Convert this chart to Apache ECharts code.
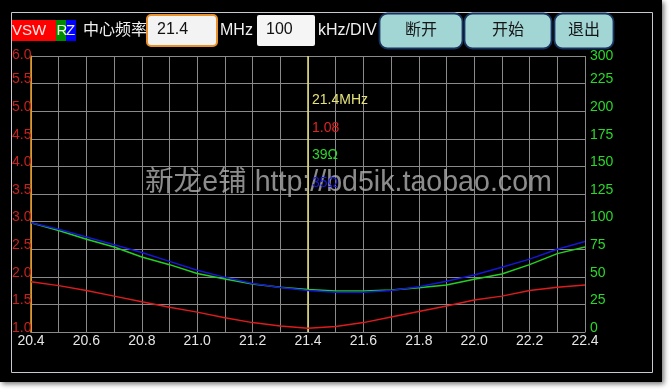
<!DOCTYPE html>
<html><head><meta charset="utf-8">
<script src="https://cdn.jsdelivr.net/npm/echarts@6/dist/echarts.min.js"></script>
<style>html,body{margin:0;padding:0;background:#fff;}#c{width:670px;height:390px;}</style>
</head><body><div id="c"></div><script>
// ---- data ----
const freqs  = [20.4,20.5,20.6,20.7,20.8,20.9,21.0,21.1,21.2,21.3,21.4,21.5,21.6,21.7,21.8,21.9,22.0,22.1,22.2,22.3,22.4];
const vswr   = [1.91,1.84,1.75,1.65,1.55,1.45,1.36,1.26,1.17,1.11,1.07,1.10,1.17,1.27,1.37,1.47,1.58,1.65,1.75,1.81,1.85];
const resist = [99,92,84,77,68,61,53,48,43.5,40.5,38.5,37.2,37.2,38,40,42.6,47.7,52.5,61,71,77];
const imped  = [99,93,86,79,72,64,56,49.5,44,40.3,37.5,36,36,37.5,41,46,51.6,58.6,66,75,82];
const leftLabels  = ['1.0','1.5','2.0','2.5','3.0','3.5','4.0','4.5','5.0','5.5','6.0'];
const rightLabels = ['0','25','50','75','100','125','150','175','200','225','300'];
const markerFreq = 21.4;
const markerTexts = ['21.4MHz','1.08','39Ω','35Ω'];
const headerTexts = {center:'中心频率', freq:'21.4', unit:'MHz', span:'100', spanUnit:'kHz/DIV', b1:'断开', b2:'开始', b3:'退出'};
const watermark = '新龙e铺 http://bd5ik.taobao.com';

const FF = "'Liberation Sans','Noto Sans CJK SC',sans-serif";
const pair = arr => freqs.map((f,i)=>[f,arr[i]]);

function txt(x,y,text,fill,size,extra){
  return Object.assign({type:'text', x:x, y:y, z:60,
    style:{text:text, fill:fill, font:size+'px '+FF, verticalAlign:'middle', align:'left'}}, extra||{});
}
function btn(x,w,label){
  return [
    {type:'rect', z:55, shape:{x:x,y:13.5,width:w,height:35,r:8}, style:{fill:'#a2d6d4',stroke:'#17335f',lineWidth:1.8}},
    txt(x+w/2,31,label,'#161616',16,{style:{text:label,fill:'#161616',font:'16px '+FF,align:'center',verticalAlign:'middle'}})
  ];
}

const graphics = [
  {type:'rect', z:-100, shape:{x:0,y:0,width:662,height:382}, style:{fill:'#000',shadowBlur:5,shadowOffsetX:2,shadowOffsetY:2,shadowColor:'rgba(0,0,0,0.55)'}},
  {type:'rect', z:-90, shape:{x:11.5,y:12.5,width:641,height:360}, style:{fill:'none',stroke:'#c8c8d0',lineWidth:1}},
  {type:'rect', z:50, shape:{x:12,y:20,width:44,height:21}, style:{fill:'#ff0000'}},
  {type:'rect', z:50, shape:{x:56,y:20,width:10,height:21}, style:{fill:'#008a00'}},
  {type:'rect', z:50, shape:{x:66,y:20,width:10,height:21}, style:{fill:'#0000ff'}},
  txt(12,31,'VSW','#ffe8e8',15),
  txt(56.5,31,'R','#e8ffe8',15),
  txt(66,31,'Z','#e8e8ff',15),
  txt(83,31,headerTexts.center,'#f0f0f0',16),
  {type:'rect', z:50, shape:{x:147,y:15,width:70,height:31,r:4}, style:{fill:'#f3f3f3',stroke:'#e8902a',lineWidth:2}},
  txt(157,30,headerTexts.freq,'#111',16),
  txt(220,31,headerTexts.unit,'#f0f0f0',16),
  {type:'rect', z:50, shape:{x:257,y:15,width:58,height:31,r:2}, style:{fill:'#f5f5f5'}},
  txt(266,30,headerTexts.span,'#111',16),
  txt(318,31,headerTexts.spanUnit,'#f0f0f0',16),
  ...btn(379.5,83,headerTexts.b1),
  ...btn(464.5,87,headerTexts.b2),
  ...btn(554.5,59,headerTexts.b3),
  txt(145,183,watermark,'rgba(175,175,175,0.8)',28.6,{z:40})
];

const chart = echarts.init(document.getElementById('c'), null, {renderer:'canvas'});
const option = {
  animation:false,
  backgroundColor:'#ffffff',
  textStyle:{fontFamily:FF},
  grid:{left:31, right:85, top:56, bottom:58, containLabel:false, outerBoundsMode:'none'},
  xAxis:{type:'value', min:20.4, max:22.4, interval:0.1,
    axisLine:{show:true, onZero:false, lineStyle:{color:'#8a8a8a',width:1}},
    axisTick:{show:false},
    splitLine:{show:true, lineStyle:{color:'#8a8a8a',width:1}},
    axisLabel:{color:'#e6e6e6', fontSize:14, margin:2, fontFamily:FF,
      formatter:(v)=>{const k=Math.round(v*10); return k%2===0 ? (k/10).toFixed(1) : '';}}
  },
  yAxis:[
    {type:'value', min:1, max:6, interval:0.5, position:'left',
      axisLine:{show:true, onZero:false, lineStyle:{color:'#f0a020',width:1.5}},
      axisTick:{show:false},
      splitLine:{show:true, lineStyle:{color:'#8a8a8a',width:1}},
      axisLabel:{align:'left', margin:19, fontFamily:FF,
        formatter:(v,i)=>{const s=leftLabels[i]; return i===leftLabels.length-1 ? '{t|'+s+'}' : '{n|'+s+'}';},
        rich:{t:{color:'#c82020',fontSize:14,fontFamily:FF,padding:[0,0,2,0]}, n:{color:'#c82020',fontSize:14,fontFamily:FF,padding:[0,0,8,0]}}}
    },
    {type:'value', min:0, max:250, interval:25, position:'right',
      axisLine:{show:false}, axisTick:{show:false}, splitLine:{show:false},
      axisLabel:{align:'left', margin:5, fontFamily:FF,
        formatter:(v,i)=>{const s=rightLabels[i]; return i===rightLabels.length-1 ? '{t|'+s+'}' : '{n|'+s+'}';},
        rich:{t:{color:'#2ad82a',fontSize:14,fontFamily:FF}, n:{color:'#2ad82a',fontSize:14,fontFamily:FF,padding:[0,0,8,0]}}}
    }
  ],
  series:[
    {type:'line', name:'VSWR', yAxisIndex:0, data:pair(vswr), showSymbol:false, z:5,
      lineStyle:{color:'#dc1c1c',width:1.5},
      markLine:{silent:true, symbol:['none','none'], label:{show:false},
        lineStyle:{color:'#e6e27a',width:1.5,type:'solid'}, data:[{xAxis:markerFreq}]}},
    {type:'line', name:'R', yAxisIndex:1, data:pair(resist), showSymbol:false, z:6,
      lineStyle:{color:'#22d022',width:1.5}},
    {type:'line', name:'Z', yAxisIndex:1, data:pair(imped), showSymbol:false, z:7,
      lineStyle:{color:'#1616d8',width:1.5}}
  ],
  graphic:{elements:graphics}
};
chart.setOption(option);

const mx = chart.convertToPixel({xAxisIndex:0, yAxisIndex:0}, [markerFreq, 1])[0] + 4;
const markColors = ['#e6e27a','#e02424','#2ad82a','#1a1ae0'];
const markY = [100,128,155,183];
const extra = markerTexts.map((t,i)=>txt(mx, markY[i], t, markColors[i], 14, {z: i===3 ? 45 : 60}));
chart.setOption({graphic:{elements:graphics.concat(extra)}});
</script></body></html>
